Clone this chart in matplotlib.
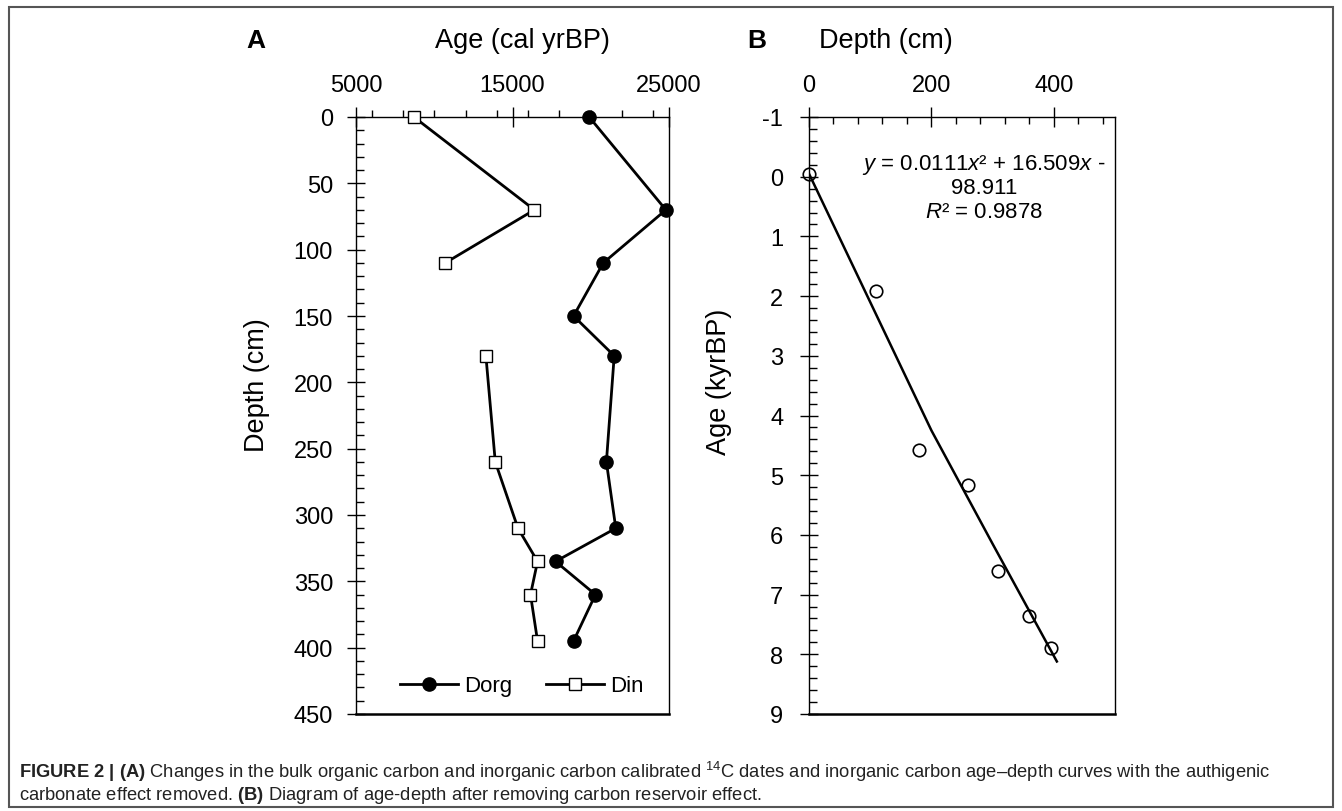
import numpy as np
import matplotlib
matplotlib.use("Agg")
import matplotlib.pyplot as plt
from matplotlib.ticker import MultipleLocator
from matplotlib.patches import Rectangle

plt.rcParams['font.family'] = ['Liberation Sans', 'DejaVu Sans']
plt.rcParams['axes.unicode_minus'] = False
plt.rcParams['mathtext.fontset'] = 'custom'
plt.rcParams['mathtext.rm'] = 'Liberation Sans'
plt.rcParams['mathtext.it'] = 'Liberation Sans:italic'
plt.rcParams['mathtext.bf'] = 'Liberation Sans:bold'

# panel A: calibrated ages vs depth
depth_a = [0, 70, 110, 150, 180, 260, 310, 335, 360, 395]
dorg = [19900, 24800, 20800, 18900, 21500, 21000, 21600, 17750, 20300, 18900]
din = [8700, 16400, 10700, np.nan, 13300, 13900, 15350, 16600, 16150, 16600]

# panel B: age-depth after removing reservoir effect
depth_b = [0, 110, 180, 260, 309, 360, 395]
age_b = [-0.05, 1.91, 4.57, 5.16, 6.61, 7.36, 7.89]
# trend line
trend_depth = [0, 100, 200, 300, 405]
trend_age = [-0.05, 2.1, 4.25, 6.15, 8.12]

W, H = 1342, 812
fig = plt.figure(figsize=(W / 100, H / 100), dpi=100)


def fx(px):
    return px / W


def fy(py):
    return 1 - py / H


# outer frame
fig.patches.append(Rectangle((fx(9), fy(808)), fx(1333) - fx(9), fy(8) - fy(808),
                             transform=fig.transFigure, fill=False,
                             edgecolor='#555555', linewidth=1.5))

top, bot = 118, 715
axA = fig.add_axes([fx(356), fy(bot), fx(669) - fx(356), fy(top) - fy(bot)])
axB = fig.add_axes([fx(809), fy(bot), fx(1115) - fx(809), fy(top) - fy(bot)])

tick_fs = 17
lw = 2.0
axA.plot(dorg, depth_a, color='black', lw=lw, marker='o', ms=9.5,
         mfc='black', mec='black', label='Dorg', zorder=3, clip_on=False)
axA.plot(din, depth_a, color='black', lw=lw, marker='s', ms=8.5,
         mfc='white', mec='black', mew=1.0, label='Din', zorder=3, clip_on=False)

axA.set_xlim(5000, 25000)
axA.set_ylim(450, 0)
axA.xaxis.tick_top()
axA.set_xticks([5000, 15000, 25000])
axA.xaxis.set_minor_locator(MultipleLocator(2000))
axA.set_yticks(np.arange(0, 451, 50))
axA.yaxis.set_minor_locator(MultipleLocator(10))
axA.tick_params(axis='x', which='major', direction='inout', length=14, width=1,
                labelsize=tick_fs, pad=8)
axA.tick_params(axis='x', which='minor', direction='out', length=5, width=1)
axA.tick_params(axis='y', which='major', direction='inout', length=13, width=1,
                labelsize=tick_fs, pad=10)
axA.tick_params(axis='y', which='minor', direction='in', length=6, width=1)
axA.tick_params(which='both', right=False, bottom=False)
for s in axA.spines.values():
    s.set_linewidth(1.0)
axA.spines['bottom'].set_linewidth(1.8)

axA.legend(loc='center', bbox_to_anchor=(0.53, 0.047), ncol=2, frameon=False,
           fontsize=16, handlelength=2.6, handletextpad=0.3, columnspacing=1.5,
           borderpad=0)

# panel B
axB.plot(trend_depth, trend_age, color='black', lw=1.8, zorder=2)
axB.plot(depth_b, age_b, linestyle='none', marker='o', ms=9, mfc='none',
         mec='black', mew=1.2, zorder=3, clip_on=False)
axB.set_xlim(0, 500)
axB.set_ylim(9, -1)
axB.xaxis.tick_top()
axB.set_xticks([0, 200, 400])
axB.xaxis.set_minor_locator(MultipleLocator(40))
axB.set_yticks(np.arange(-1, 10, 1))
axB.yaxis.set_minor_locator(MultipleLocator(0.2))
axB.tick_params(axis='x', which='major', direction='inout', length=14, width=1,
                labelsize=tick_fs, pad=8)
axB.tick_params(axis='x', which='minor', direction='in', length=5, width=1)
axB.tick_params(axis='y', which='major', direction='inout', length=13, width=1,
                labelsize=tick_fs, pad=12)
axB.tick_params(axis='y', which='minor', direction='in', length=6, width=1)
axB.tick_params(which='both', right=False, bottom=False)
for s in axB.spines.values():
    s.set_linewidth(1.0)
axB.spines['bottom'].set_linewidth(1.8)

eq_fs = 16
axB.text(fx(984), fy(165), r'$\it{y}$ = 0.0111$\it{x}$² + 16.509$\it{x}$ -',
         transform=fig.transFigure, ha='center', va='center', fontsize=eq_fs)
axB.text(fx(984), fy(189), '98.911', transform=fig.transFigure,
         ha='center', va='center', fontsize=eq_fs)
axB.text(fx(984), fy(213), r'$\it{R}$² = 0.9878', transform=fig.transFigure,
         ha='center', va='center', fontsize=eq_fs)

# panel letters and axis titles
fig.text(fx(256), fy(41), 'A', fontsize=19, fontweight='bold', ha='center', va='center')
fig.text(fx(757), fy(41), 'B', fontsize=19, fontweight='bold', ha='center', va='center')
fig.text(fx(522), fy(41), 'Age (cal yrBP)', fontsize=19.5, ha='center', va='center')
fig.text(fx(886), fy(41), 'Depth (cm)', fontsize=19.5, ha='center', va='center')
fig.text(fx(257), fy(385), 'Depth (cm)', fontsize=19.5, rotation=90, ha='center', va='center')
fig.text(fx(719), fy(382), 'Age (kyrBP)', fontsize=19.5, rotation=90, ha='center', va='center')

# caption
cap1 = (r'$\bf{FIGURE\ 2\ |\ (A)}$ Changes in the bulk organic carbon and inorganic carbon '
        r'calibrated $^{14}$C dates and inorganic carbon age–depth curves with the authigenic')
cap2 = r'carbonate effect removed. $\bf{(B)}$ Diagram of age-depth after removing carbon reservoir effect.'
fig.text(fx(19), fy(772), cap1, fontsize=13.2, ha='left', va='center', color='#222222')
fig.text(fx(19), fy(796), cap2, fontsize=13.2, ha='left', va='center', color='#222222')

fig.savefig('out.png', dpi=100)
